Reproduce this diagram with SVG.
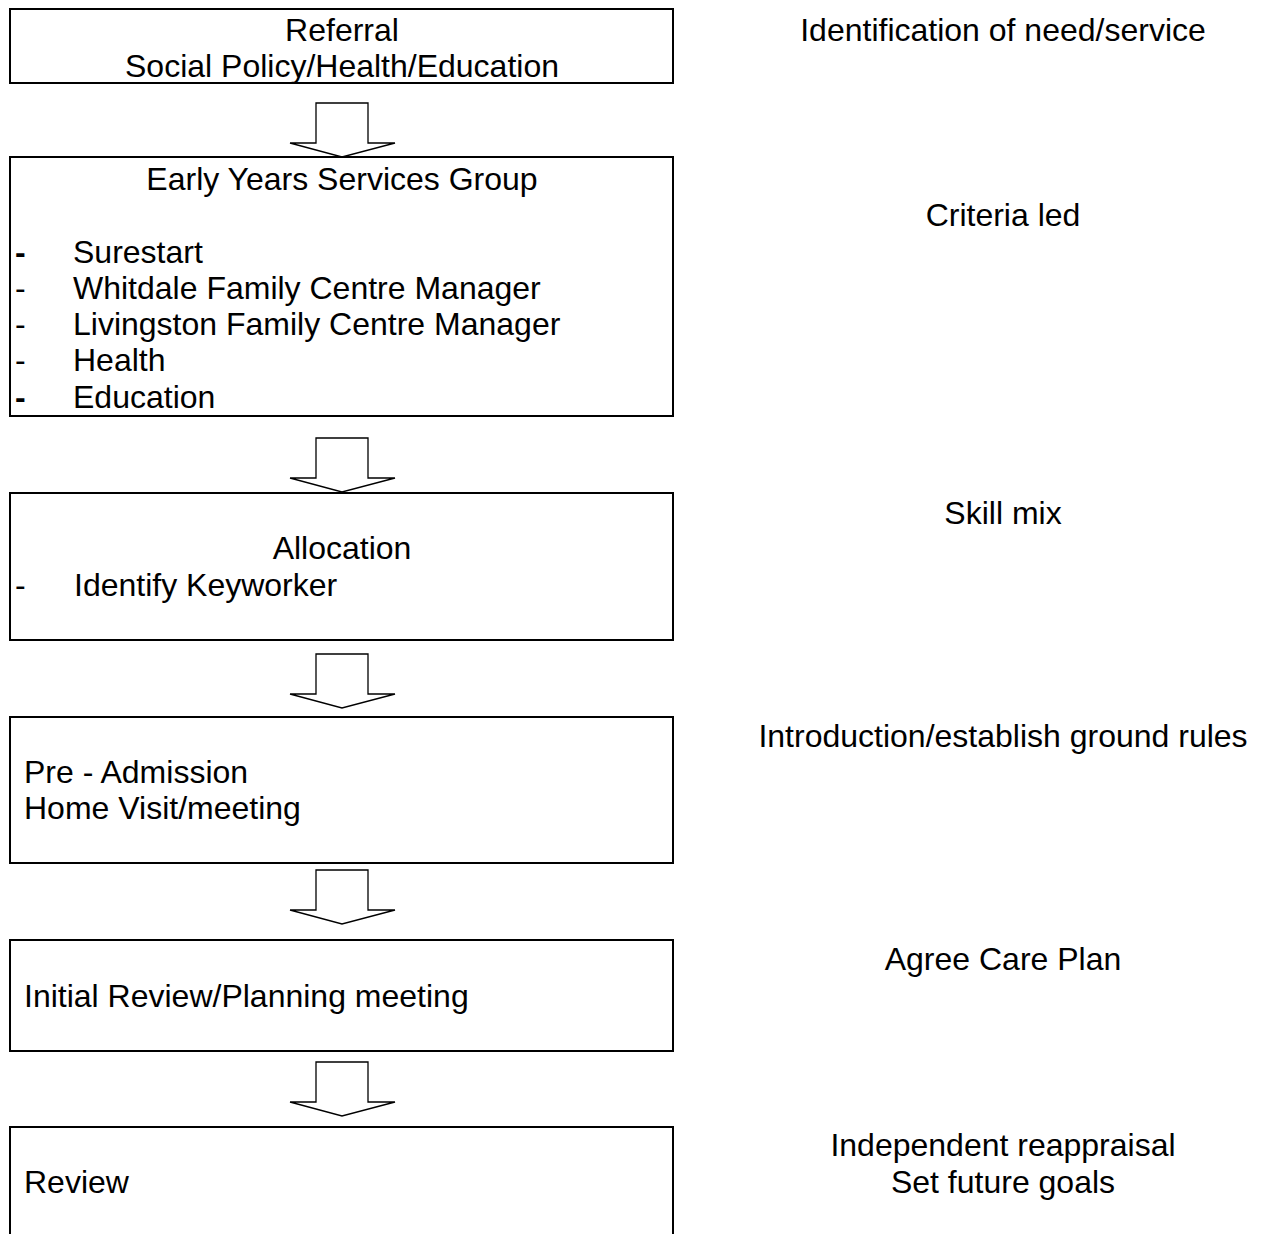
<svg xmlns="http://www.w3.org/2000/svg" xmlns:xlink="http://www.w3.org/1999/xlink" width="1265" height="1234" viewBox="0 0 1265 1234">
<style>
.box{fill:#fff;stroke:#000;stroke-width:2}
.arr{fill:#fff;stroke:#000;stroke-width:1.3;stroke-linejoin:miter}
text{font-family:"Liberation Sans",Arial,sans-serif;font-size:32px;fill:#000}
.c{text-anchor:middle}
.b{font-weight:bold}
</style>
<defs>
<path id="arrow" class="arr" d="M316,0 H368 V40 H395 L342,54 L290,40 H316 Z"/>
</defs>
<rect width="1265" height="1234" fill="#fff"/>
<g id="connectors">
<use xlink:href="#arrow" href="#arrow" transform="translate(0,103)"/>
<use xlink:href="#arrow" href="#arrow" transform="translate(0,438)"/>
<use xlink:href="#arrow" href="#arrow" transform="translate(0,654)"/>
<use xlink:href="#arrow" href="#arrow" transform="translate(0,870)"/>
<use xlink:href="#arrow" href="#arrow" transform="translate(0,1062)"/>
</g>
<g id="referral">
<rect class="box" x="10" y="9" width="663" height="74"/>
<text class="c" x="342" y="41">Referral</text>
<text class="c" x="342" y="77">Social Policy/Health/Education</text>
</g>
<g id="early-years">
<rect class="box" x="10" y="157" width="663" height="259"/>
<text class="c" x="342" y="190">Early Years Services Group</text>
<text class="b" x="15" y="263">-</text><text x="73" y="263">Surestart</text>
<text x="15" y="299">-</text><text x="73" y="299">Whitdale Family Centre Manager</text>
<text x="15" y="335">-</text><text x="73" y="335">Livingston Family Centre Manager</text>
<text x="15" y="371">-</text><text x="73" y="371">Health</text>
<text class="b" x="15" y="408">-</text><text x="73" y="408">Education</text>
</g>
<g id="allocation">
<rect class="box" x="10" y="493" width="663" height="147"/>
<text class="c" x="342" y="559">Allocation</text>
<text x="15" y="596">-</text><text x="74" y="596">Identify Keyworker</text>
</g>
<g id="pre-admission">
<rect class="box" x="10" y="717" width="663" height="146"/>
<text x="24" y="783">Pre - Admission</text>
<text x="24" y="819">Home Visit/meeting</text>
</g>
<g id="initial-review">
<rect class="box" x="10" y="940" width="663" height="111"/>
<text x="24" y="1007">Initial Review/Planning meeting</text>
</g>
<g id="review">
<rect class="box" x="10" y="1127" width="663" height="130"/>
<text x="24" y="1193">Review</text>
</g>
<g id="notes">
<text class="c" x="1003" y="41">Identification of need/service</text>
<text class="c" x="1003" y="226">Criteria led</text>
<text class="c" x="1003" y="524">Skill mix</text>
<text class="c" x="1003" y="747">Introduction/establish ground rules</text>
<text class="c" x="1003" y="970">Agree Care Plan</text>
<text class="c" x="1003" y="1156">Independent reappraisal</text>
<text class="c" x="1003" y="1193">Set future goals</text>
</g>
</svg>
